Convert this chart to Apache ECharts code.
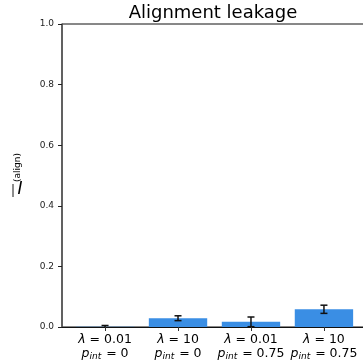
<!DOCTYPE html>
<html>
<head>
<meta charset="utf-8">
<script src="https://cdn.jsdelivr.net/npm/echarts@6/dist/echarts.min.js"></script>
<style>
  html, body { margin: 0; padding: 0; background: #fff; }
  #chart { width: 363px; height: 364px; }
</style>
</head>
<body>
<div id="chart"></div>
<script>
// Settings along the x axis
const lambdas = ['0.01', '10', '0.01', '10'];
const pInts = ['0', '0', '0.75', '0.75'];
// Mean alignment leakage and its error (half-length of the error bar)
const means = [0.001, 0.029, 0.017, 0.0585];
const errors = [0.004, 0.008, 0.016, 0.0135];
const yTicks = [0, 0.2, 0.4, 0.6, 0.8, 1.0];

const positions = means.map((_, i) => i);
const FONT = 'DejaVu Sans';
const BAR_COLOR = '#3a8ee4';

const chart = echarts.init(document.getElementById('chart'), null, { renderer: 'canvas' });

const barData = positions.map((p, i) => [p, means[i], errors[i]]);

chart.setOption({
  animation: false,
  backgroundColor: '#fff',
  grid: {
    left: 62, top: 24, width: 305, bottom: 37,
    containLabel: false,
    outerBoundsMode: 'none',
    show: true, borderColor: '#111', borderWidth: 1, backgroundColor: 'transparent'
  },
  xAxis: {
    type: 'value',
    min: -0.59, max: 3.59,
    splitLine: { show: false },
    axisLine: { show: true, lineStyle: { color: '#111', width: 1 } },
    axisTick: {
      show: true, customValues: positions, length: 4, inside: false,
      lineStyle: { color: '#333', width: 1 }
    },
    axisLabel: {
      show: true, customValues: positions, margin: 6,
      fontFamily: FONT, fontSize: 12.5, color: '#000', lineHeight: 14,
      formatter: (v) => {
        const i = Math.round(v);
        return '{it|λ} = ' + lambdas[i] + '\n{it|p}{sub|int} = ' + pInts[i];
      },
      rich: {
        it: { fontFamily: FONT, fontStyle: 'italic', fontSize: 12.5, color: '#000' },
        sub: { fontFamily: FONT, fontStyle: 'italic', fontSize: 9, color: '#000', padding: [5, 1, 0, 0] }
      }
    }
  },
  yAxis: {
    type: 'value',
    min: 0, max: 1, interval: 0.2,
    splitLine: { show: false },
    axisLine: { show: true, onZero: false, lineStyle: { color: '#555', width: 1.5 } },
    axisTick: { show: true, length: 4, lineStyle: { color: '#222', width: 1 } },
    axisLabel: {
      fontFamily: FONT, fontSize: 9, color: '#222', margin: 8,
      customValues: yTicks,
      formatter: (v) => v.toFixed(1)
    }
  },
  series: [
    {
      type: 'custom',
      clip: true,
      data: barData,
      encode: { x: 0, y: 1 },
      renderItem: (params, api) => {
        const x = api.value(0), y = api.value(1), e = api.value(2);
        const bl = api.coord([x - 0.4, 0]);
        const tr = api.coord([x + 0.4, y]);
        const top = api.coord([x, y + e]);
        const bot = api.coord([x, Math.max(y - e, 0)]);
        const cap = 3.5;
        const children = [
          {
            type: 'rect',
            shape: { x: bl[0], y: tr[1], width: tr[0] - bl[0], height: bl[1] - tr[1] },
            style: { fill: BAR_COLOR }
          },
          {
            type: 'line',
            shape: { x1: top[0], y1: top[1], x2: bot[0], y2: bot[1] },
            style: { stroke: '#111', lineWidth: 1.5 }
          },
          {
            type: 'line',
            shape: { x1: top[0] - cap, y1: top[1], x2: top[0] + cap, y2: top[1] },
            style: { stroke: '#111', lineWidth: 1.5 }
          }
        ];
        if (y - e >= 0) {
          children.push({
            type: 'line',
            shape: { x1: bot[0] - cap, y1: bot[1], x2: bot[0] + cap, y2: bot[1] },
            style: { stroke: '#111', lineWidth: 1.5 }
          });
        }
        return { type: 'group', children: children };
      },
      z: 3
    }
  ],
  graphic: [
    {
      type: 'text',
      x: 213, y: 13,
      style: {
        text: 'Alignment leakage', font: '18px "DejaVu Sans"', fill: '#000',
        align: 'center', verticalAlign: 'middle'
      }
    },
    {
      // y-axis name: overlined I with superscript "(align)", reading bottom to top
      type: 'group',
      x: 21, y: 197,
      rotation: Math.PI / 2,
      children: [
        {
          type: 'text',
          x: 7, y: -1,
          rotation: -Math.PI / 2,
          style: { text: 'I', font: 'italic 17px "DejaVu Sans"', fill: '#000', align: 'center', verticalAlign: 'middle' }
        },
        {
          type: 'line',
          shape: { x1: 0, y1: -8, x2: 13, y2: -8 },
          style: { stroke: '#000', lineWidth: 0.9 }
        },
        {
          type: 'text',
          x: 15, y: -3,
          style: { text: '(align)', font: '9px "DejaVu Sans"', fill: '#000', align: 'left', verticalAlign: 'middle' }
        }
      ]
    }
  ]
});
</script>
</body>
</html>
